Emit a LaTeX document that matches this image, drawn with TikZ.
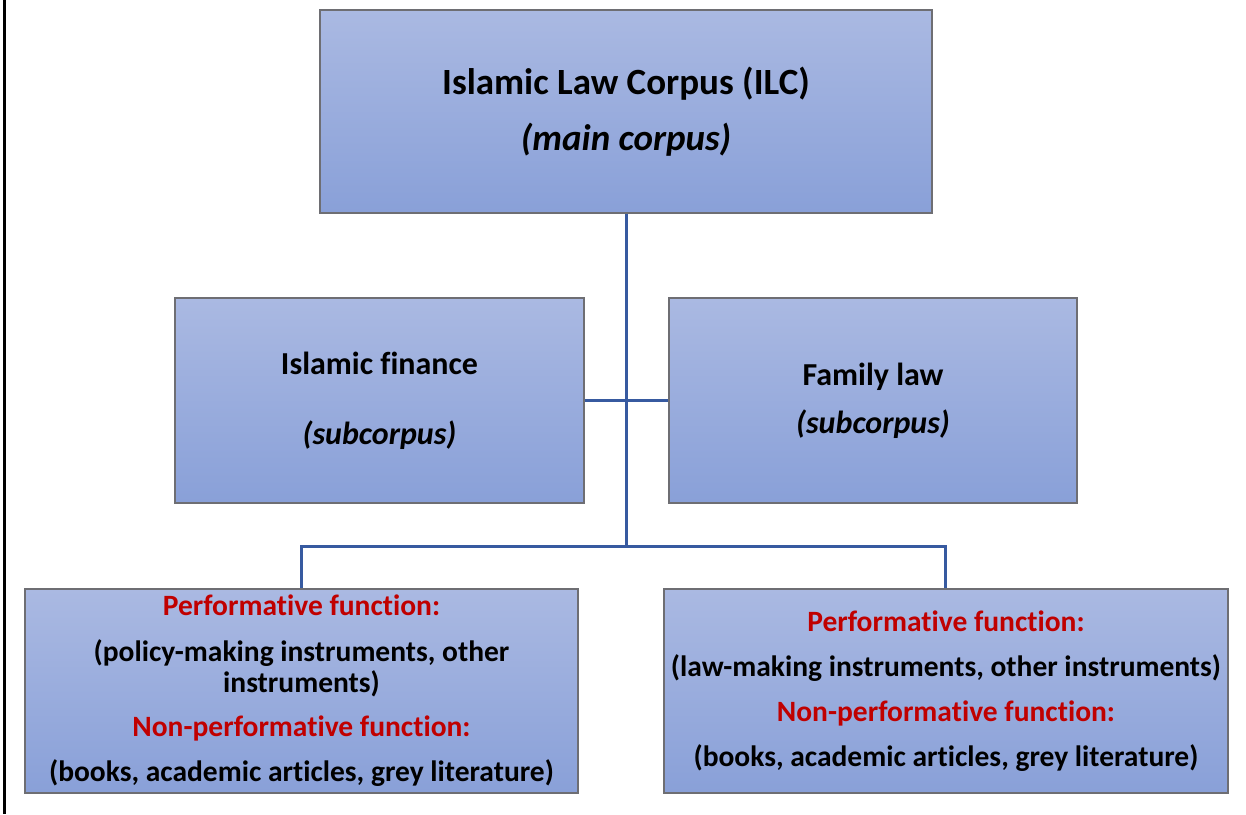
\documentclass[tikz,border=0pt]{standalone}
\usepackage{fontspec}
\setmainfont[Ligatures=NoCommon]{Carlito}
\begin{document}
\begin{tikzpicture}[x=1pt,y=-1pt,
  box/.style={draw={rgb,255:red,110;green,110;blue,115}, line width=1.6pt,
    top color={rgb,255:red,170;green,185;blue,226},
    bottom color={rgb,255:red,137;green,160;blue,216},
    align=center, inner sep=0pt, font=\bfseries},
  link/.style={draw={rgb,255:red,55;green,90;blue,160}, line width=3pt}]
\definecolor{hdred}{RGB}{192,0,0}
\useasboundingbox (0,0) rectangle (1246,814);
% frame line on the left
\draw[line width=3pt] (4.5,0) -- (4.5,814);

% main corpus
\node[box, minimum width=612pt, minimum height=203pt,
      font=\bfseries\fontsize{37}{56}\selectfont] (ilc) at (626,111.5)
  {Islamic Law Corpus (ILC)\\ \itshape (main corpus)};

% subcorpora
\node[box, minimum width=409pt, minimum height=205pt,
      font=\bfseries\fontsize{32}{70}\selectfont] (fin) at (379.5,400.5)
  {Islamic finance\\ \itshape (subcorpus)};
\node[box, minimum width=408pt, minimum height=205pt,
      font=\bfseries\fontsize{32}{48}\selectfont] (fam) at (873,400.5)
  {Family law\\ \itshape (subcorpus)};

% functions
\node[box, minimum width=553pt, minimum height=204pt,
      font=\bfseries\fontsize{29.5}{31}\selectfont] (ffun) at (301.5,691)
  {\textcolor{hdred}{Performative function:}\\[15pt]
   (policy-making instruments, other\\ instruments)\\[13pt]
   \textcolor{hdred}{Non-performative function:}\\[14pt]
   (books, academic articles, grey literature)};
\node[box, minimum width=564pt, minimum height=204pt,
      font=\bfseries\fontsize{29.5}{45}\selectfont] (lfun) at (946,691)
  {\textcolor{hdred}{Performative function:}\\
   (law-making instruments, other instruments)\\
   \textcolor{hdred}{Non-performative function:}\\
   (books, academic articles, grey literature)};

% connectors
\coordinate (hub) at (ilc.south |- 0,546);
\draw[link] (ilc.south) -- (hub);
\draw[link] (fin.east) -- (fam.west);
\draw[link] (hub) -| (ffun.north);
\draw[link] (hub) -| ([xshift=-1pt]lfun.north);
\end{tikzpicture}
\end{document}
